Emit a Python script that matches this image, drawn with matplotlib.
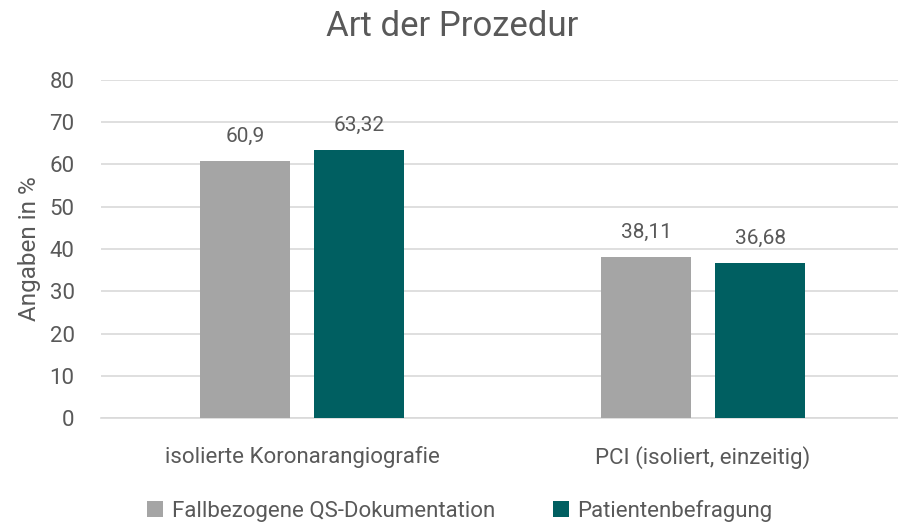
import matplotlib
matplotlib.use("Agg")
import matplotlib.pyplot as plt
import numpy as np

categories = ["isolierte Koronarangiografie", "PCI (isoliert, einzeitig)"]
series_names = ["Fallbezogene QS-Dokumentation", "Patientenbefragung"]
qs_values = [60.9, 38.11]
pat_values = [63.32, 36.68]
qs_labels = ["60,9", "38,11"]
pat_labels = ["63,32", "36,68"]
yticks = [0, 10, 20, 30, 40, 50, 60, 70, 80]

text_color = "#595959"
colors = ["#A5A5A5", "#005F61"]

plt.rcParams['font.family'] = ['Roboto', 'DejaVu Sans']

fig = plt.figure(figsize=(8.98, 5.26), dpi=100)
ax = fig.add_axes([101/898, 1-418/526, (898-101)/898, (418-80)/526])

x = np.arange(len(categories))
w = 0.2244
off = 0.142
b1 = ax.bar(x - off, qs_values, w, color=colors[0], label=series_names[0], zorder=3)
b2 = ax.bar(x + off, pat_values, w, color=colors[1], label=series_names[1], zorder=3)

for bars, labs in ((b1, qs_labels), (b2, pat_labels)):
    for r, t in zip(bars, labs):
        ax.annotate(t, (r.get_x() + r.get_width()/2, r.get_height()),
                    xytext=(0, 11), textcoords="offset points", ha="center", va="bottom",
                    fontsize=15, color=text_color)

ax.set_xlim(-0.501, 1.486)
ax.set_ylim(0, 80)
ax.set_yticks(yticks)
ax.set_yticklabels([str(v) for v in yticks], fontsize=16, color=text_color)
ax.set_xticks(x)
ax.set_xticklabels(categories, fontsize=16, color=text_color)
ax.tick_params(axis='both', length=0)
ax.tick_params(axis='y', pad=19)
ax.tick_params(axis='x', pad=20)
ax.yaxis.grid(True, color="#D9D9D9", linewidth=1.2, zorder=0)
for s in ["top", "right", "left"]:
    ax.spines[s].set_visible(False)
ax.spines["bottom"].set_color("#D9D9D9")
ax.spines["bottom"].set_linewidth(1.2)

ax.set_ylabel("Angaben in %", fontsize=17.5, color=text_color, labelpad=6)

fig.text(452/898, 1-27/526, "Art der Prozedur", ha="center", va="center",
         fontsize=25, color=text_color)

leg = fig.legend(handles=[b1, b2], labels=series_names, loc="center",
                 bbox_to_anchor=(460/898, 1-511/526), ncol=2, frameon=False,
                 fontsize=16, handlelength=0.7, handleheight=0.7, handletextpad=0.4,
                 columnspacing=2.6)
for t in leg.get_texts():
    t.set_color(text_color)

fig.savefig("out.png", dpi=100)
